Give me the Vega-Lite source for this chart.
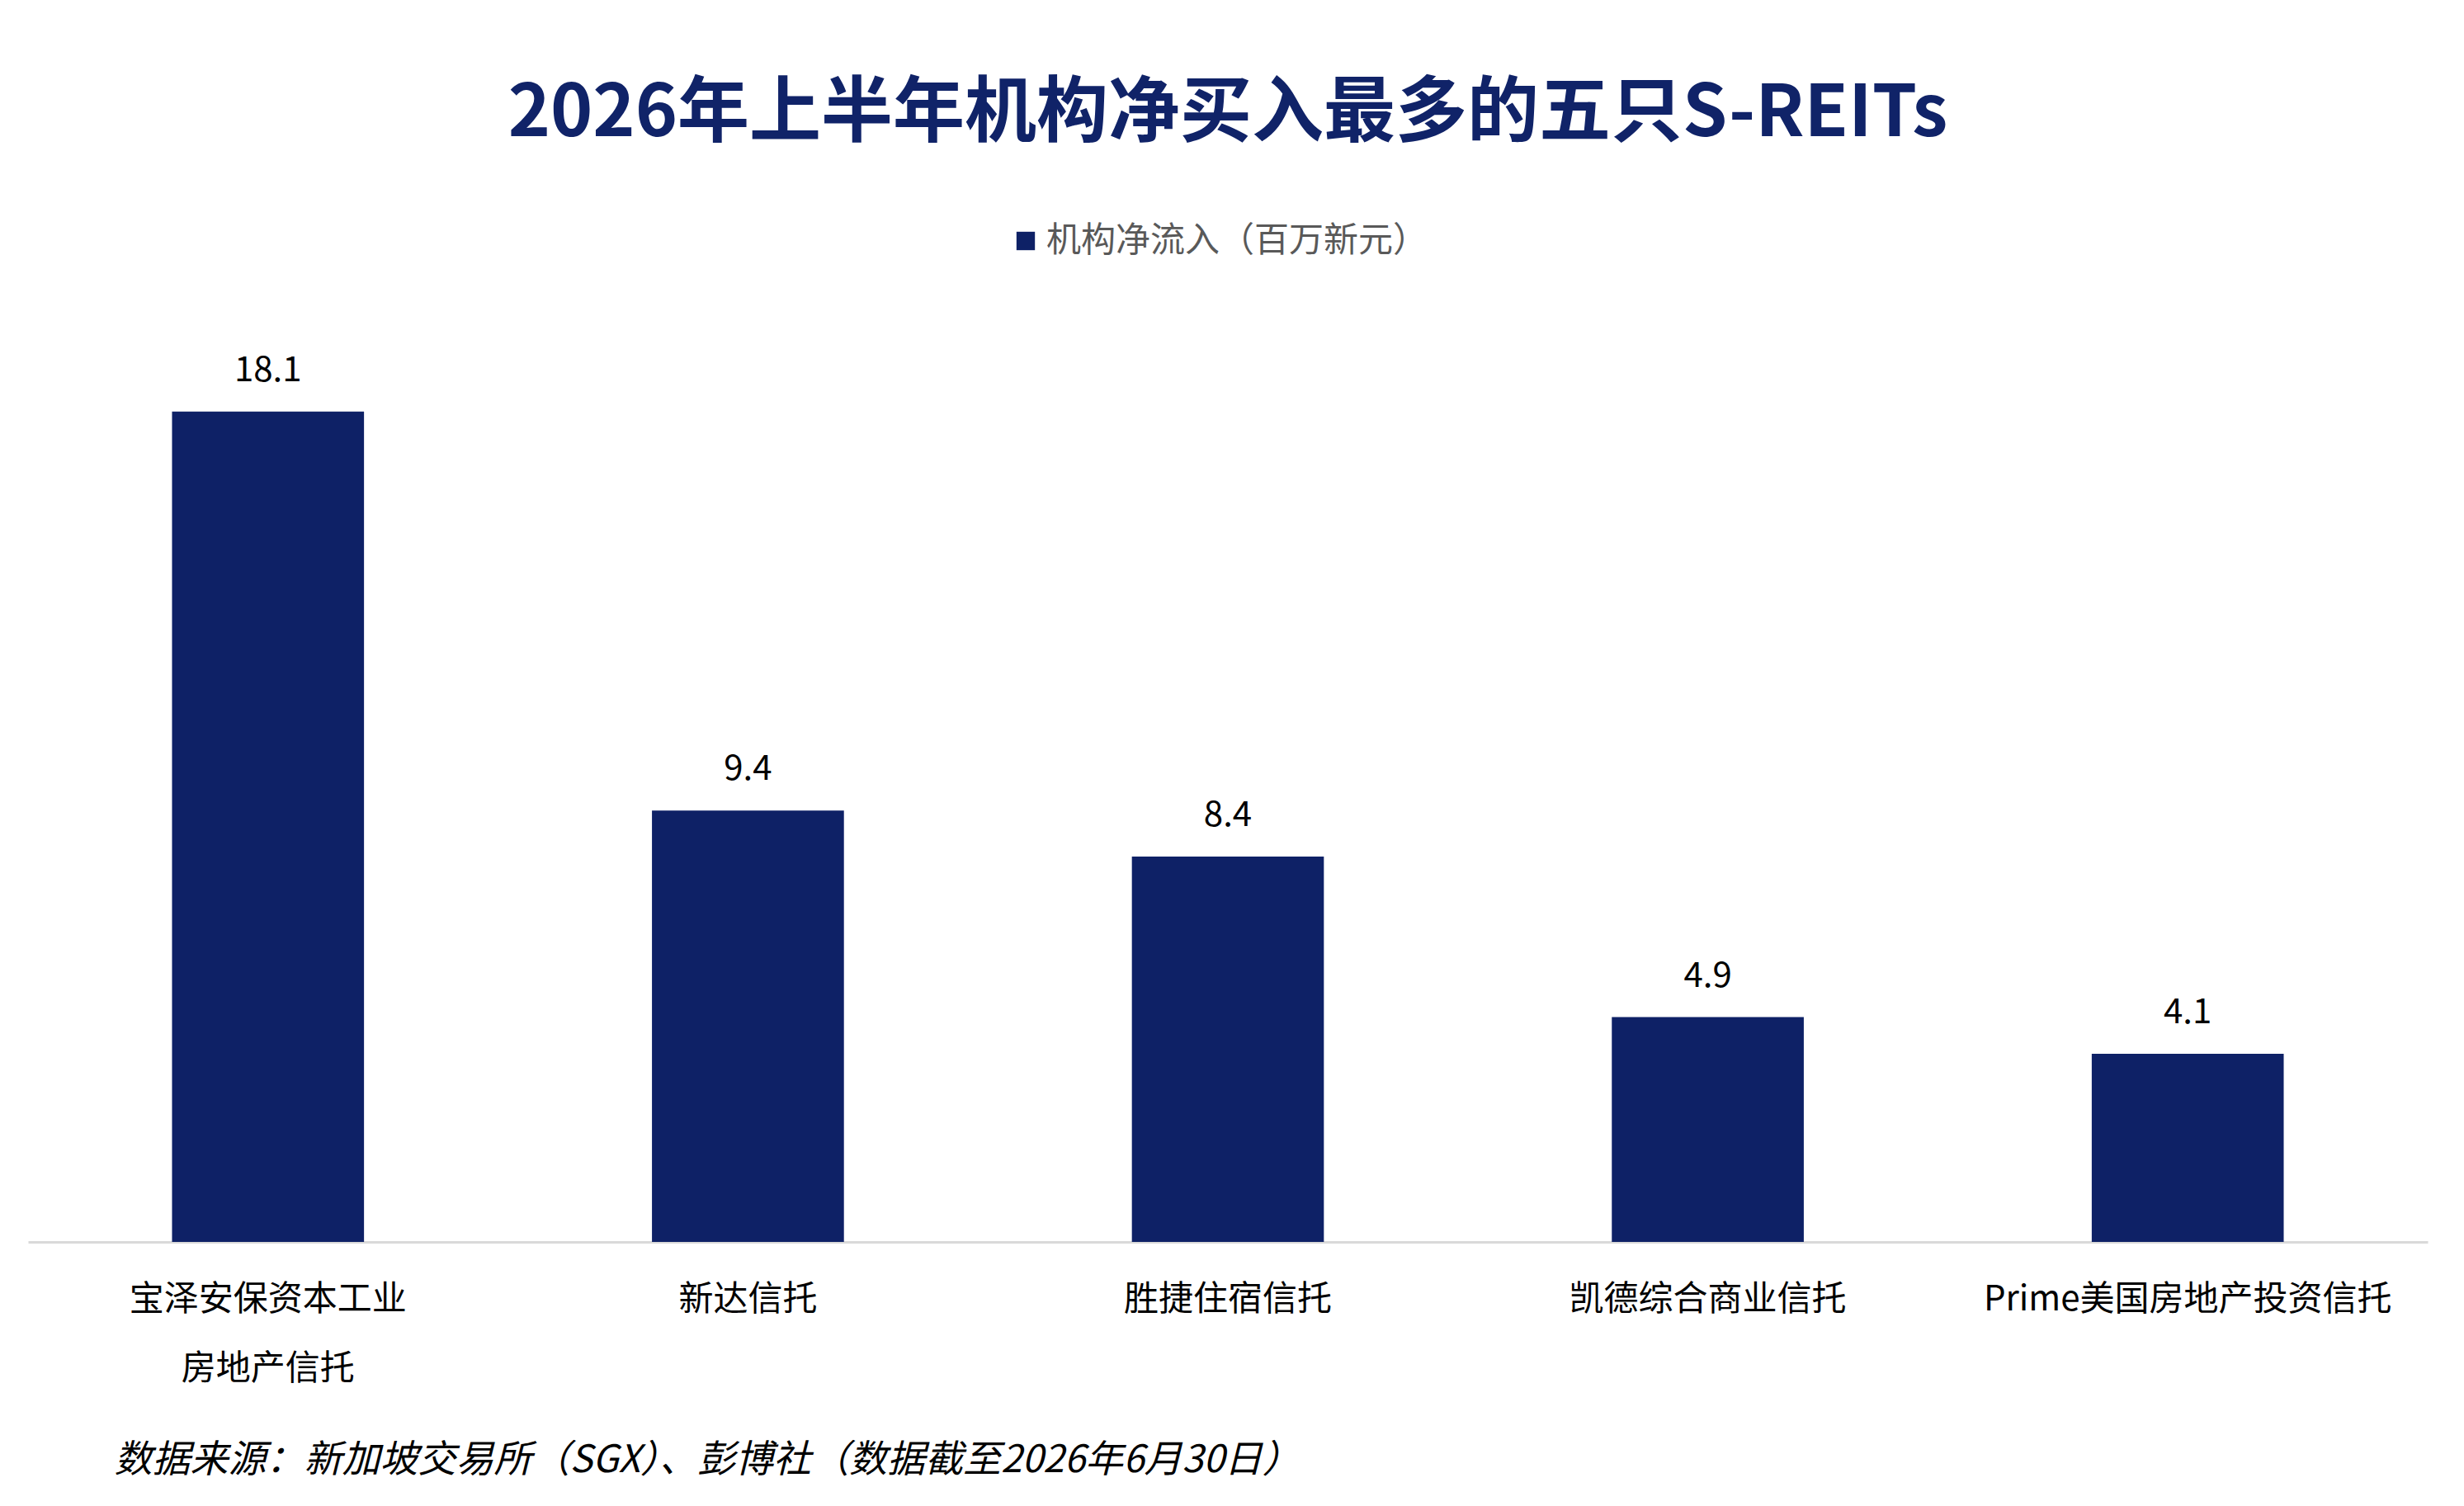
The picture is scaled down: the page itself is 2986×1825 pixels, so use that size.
{
  "$schema": "https://vega.github.io/schema/vega-lite/v6.json",
  "autosize": "none",
  "width": 2908,
  "height": 1112,
  "padding": {"left": 34, "top": 393, "right": 44, "bottom": 320},
  "background": "white",
  "title": {
    "text": "2026年上半年机构净买入最多的五只S-REITs",
    "fontSize": 87,
    "fontWeight": "bold",
    "color": "#102368",
    "font": "Noto Sans CJK SC",
    "offset": 88,
    "anchor": "middle"
  },
  "data": {
    "values": [
      {"name": "宝泽安保资本工业房地产信托", "series": "机构净流入（百万新元）", "value": 18.1},
      {"name": "新达信托", "series": "机构净流入（百万新元）", "value": 9.4},
      {"name": "胜捷住宿信托", "series": "机构净流入（百万新元）", "value": 8.4},
      {"name": "凯德综合商业信托", "series": "机构净流入（百万新元）", "value": 4.9},
      {"name": "Prime美国房地产投资信托", "series": "机构净流入（百万新元）", "value": 4.1}
    ]
  },
  "encoding": {
    "x": {
      "field": "name",
      "type": "nominal",
      "sort": null,
      "scale": {"paddingInner": 0.6, "paddingOuter": 0.3},
      "axis": {
        "title": "数据来源：新加坡交易所（SGX）、彭博社（数据截至2026年6月30日）",
        "titleFont": "Noto Sans CJK SC",
        "titleFontStyle": "italic",
        "titleFontSize": 46,
        "titleFontWeight": "normal",
        "titleColor": "#000000",
        "titleAnchor": "start",
        "titleAlign": "left",
        "titleBaseline": "middle",
        "titleX": 104,
        "titleY": 264,
        "labelAngle": 0,
        "labelFont": "Noto Sans CJK SC",
        "labelFontSize": 42,
        "labelColor": "#000000",
        "labelPadding": 49,
        "labelLineHeight": 84,
        "labelLimit": 0,
        "labelExpr": "datum.label == '宝泽安保资本工业房地产信托' ? ['宝泽安保资本工业', '房地产信托'] : datum.label",
        "ticks": false,
        "domainColor": "#d9d9d9",
        "domainWidth": 3
      }
    },
    "y": {
      "field": "value",
      "type": "quantitative",
      "scale": {"domain": [0, 20]},
      "axis": null
    }
  },
  "layer": [
    {
      "mark": {"type": "bar", "color": "#0e2166"},
      "encoding": {
        "color": {
          "field": "series",
          "type": "nominal",
          "scale": {"range": ["#0e2166"]},
          "legend": {
            "title": null,
            "orient": "none",
            "legendX": 1188,
            "legendY": -122,
            "symbolType": "square",
            "symbolSize": 500,
            "labelFont": "Noto Sans CJK SC",
            "labelFontSize": 42,
            "labelColor": "#595959",
            "labelLimit": 0
          }
        }
      }
    },
    {
      "mark": {"type": "text", "dy": -50, "fontSize": 42, "font": "Noto Sans CJK SC", "color": "#000000"},
      "encoding": {"text": {"field": "value", "type": "quantitative", "format": ".1f"}}
    }
  ],
  "config": {"view": {"stroke": null}}
}
